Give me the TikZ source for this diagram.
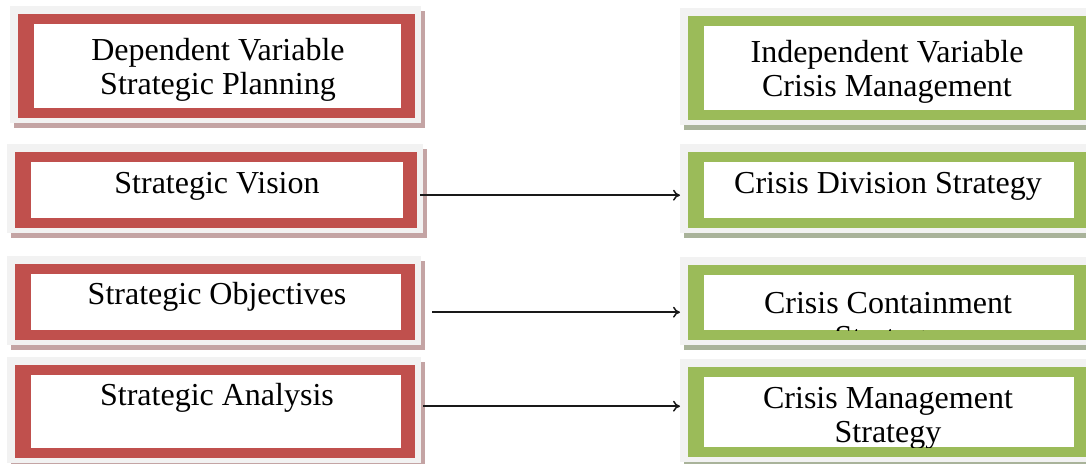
\documentclass[tikz,border=0pt]{standalone}
\usepackage{fontspec}
\setmainfont{Liberation Serif}
\usetikzlibrary{arrows.meta}
\definecolor{fred}{HTML}{C0504D}
\definecolor{fgreen}{HTML}{9BBB59}
\definecolor{bggray}{HTML}{F2F2F2}
\definecolor{redshadow}{HTML}{C4A4A4}
\definecolor{greenshadow}{HTML}{A9B39A}
\tikzset{
  framebox/.style={fill=#1, draw=none, inner sep=0pt, anchor=north west},
  innerbox/.style={fill=white, draw=none, inner sep=0pt, anchor=north west},
  txt/.style={font=\fontsize{32}{34}\selectfont, align=center, inner sep=0pt, anchor=base, text=black},
  arr/.style={-{To[length=7pt,width=11pt]}, line width=1.5pt, draw=black!90},
}
% #1 name, #2 frame colour, #3 shadow colour, #4 x1, #5 y1, #6 x2, #7 y2 (outer frame, in px)
\newcommand{\mybox}[7]{%
  \fill[#3] ({#4-8+4},{#5-8+5}) rectangle ({#6+6+4},{#7+5+5});
  \fill[bggray] ({#4-8},{#5-8}) rectangle ({#6+6},{#7+5});
  \node[framebox=#2, minimum width={(#6-#4)*1pt}, minimum height={(#7-#5)*1pt}] (#1) at (#4,#5) {};
  \node[innerbox, minimum width={(#6-#4-30)*1pt}, minimum height={(#7-#5-19.5)*1pt}] (#1in) at ({#4+16},{#5+9.5}) {};
}
\begin{document}
\begin{tikzpicture}[x=1pt,y=-1pt]
\useasboundingbox (0,0) rectangle (1086,463);
\clip (0,0) rectangle (1086,463);
\fill[white] (0,0) rectangle (1086,463);

% left column (red)
\mybox{dv}{fred}{redshadow}{18}{14}{415}{118}
\mybox{sv}{fred}{redshadow}{15}{152}{417}{228}
\mybox{so}{fred}{redshadow}{15}{264}{415}{340}
\mybox{sa}{fred}{redshadow}{15}{365}{415}{458}
% right column (green)
\mybox{iv}{fgreen}{greenshadow}{688}{16}{1088}{120}
\mybox{cd}{fgreen}{greenshadow}{688}{152}{1088}{228}
\mybox{cc}{fgreen}{greenshadow}{688}{265}{1088}{340}
\mybox{cm}{fgreen}{greenshadow}{688}{367}{1088}{457}

% texts, clipped to the white inner areas (base = last line's baseline)
\begin{scope}\clip (dvin.north west) rectangle (dvin.south east);
  \node[txt] (dvt) at (218,94) {Dependent Variable\\Strategic Planning};\end{scope}
\begin{scope}\clip (svin.north west) rectangle (svin.south east);
  \node[txt] (svt) at (217,193) {Strategic Vision};\end{scope}
\begin{scope}\clip (soin.north west) rectangle (soin.south east);
  \node[txt] (sot) at (217,304) {Strategic Objectives};\end{scope}
\begin{scope}\clip (sain.north west) rectangle (sain.south east);
  \node[txt] (sat) at (217,405) {Strategic Analysis};\end{scope}
\begin{scope}\clip (ivin.north west) rectangle (ivin.south east);
  \node[txt] (ivt) at (887,96) {Independent Variable\\Crisis Management};\end{scope}
\begin{scope}\clip (cdin.north west) rectangle (cdin.south east);
  \node[txt] (cdt) at (888,193) {Crisis Division Strategy};\end{scope}
\begin{scope}\clip (ccin.north west) rectangle (ccin.south east);
  \node[txt] (cct) at (888,347) {Crisis Containment\\Strategy};\end{scope}
\begin{scope}\clip (cmin.north west) rectangle (cmin.south east);
  \node[txt] (cmt) at (888,442) {Crisis Management\\Strategy};\end{scope}

% connectors
\draw[arr] ([shift={(3,5)}]sv.east) -- ([shift={(-8,5)}]cd.west);
\draw[arr] ([shift={(17,10)}]so.east) -- ([shift={(-8,9.5)}]cc.west);
\draw[arr] ([shift={(8,-5.5)}]sa.east) -- ([shift={(-8,-6)}]cm.west);
\end{tikzpicture}
\end{document}
